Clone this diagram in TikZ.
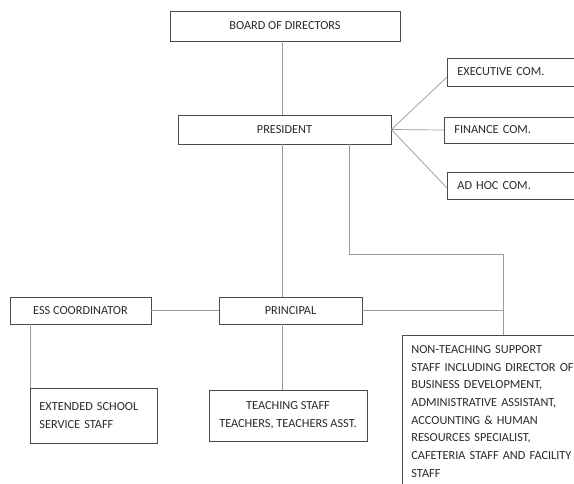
\documentclass[tikz,border=0pt]{standalone}
\usepackage{fontspec}
\setmainfont{Carlito}
\definecolor{boxline}{HTML}{4A4A4A}
\definecolor{linkline}{HTML}{9A9A9A}
\definecolor{txt}{HTML}{2A2A2A}

\begin{document}
\begin{tikzpicture}[x=1pt,y=-1pt,
  box/.style={draw=boxline, line width=0.8pt, text=txt, inner sep=0pt},
  lbox/.style={box, align=left, inner xsep=10pt},
  link/.style={draw=linkline, line width=0.7pt}]

\useasboundingbox (0,0) rectangle (574,484);
\clip (0,0) rectangle (574,484);
\fill[white] (0,0) rectangle (574,484);

\fontsize{12.3}{17.7}\selectfont

\node[box, minimum width=230, minimum height=30] (board) at (285,26) {BOARD OF DIRECTORS};
\node[box, minimum width=213, minimum height=29] (pres) at (284.5,129.5) {PRESIDENT};

\node[lbox, anchor=west, text width=130, minimum height=28] (exec) at (447,72) {EXECUTIVE COM.};
\node[lbox, anchor=west, text width=130, minimum height=26] (fin) at (444,130) {FINANCE COM.};
\node[lbox, anchor=west, text width=130, minimum height=27] (adhoc) at (447,185.5) {AD HOC COM.};

\node[box, minimum width=141, minimum height=27] (ess) at (80.5,310.5) {ESS COORDINATOR};
\node[box, minimum width=143, minimum height=27] (prin) at (290.5,310.5) {PRINCIPAL};

\node[lbox, anchor=north west, text width=109, minimum height=55, inner xsep=9pt] (ext) at (30,388)
  {EXTENDED SCHOOL\\SERVICE STAFF};
\node[box, align=center, minimum width=158, minimum height=51] (teach) at (288,415.5)
  {TEACHING STAFF\\TEACHERS, TEACHERS ASST.};
\node[lbox, anchor=north west, text width=200, inner xsep=9pt, inner ysep=10pt] (nonteach) at (402,335)
  {NON-TEACHING SUPPORT\\STAFF INCLUDING DIRECTOR OF\\BUSINESS DEVELOPMENT,\\ADMINISTRATIVE ASSISTANT,\\ACCOUNTING \& HUMAN\\RESOURCES SPECIALIST,\\CAFETERIA STAFF AND FACILITY\\STAFF};

\coordinate (spine) at (282,0);
\coordinate (drop) at (349,0);
\coordinate (bus) at (503,254);

\draw[link] (board.south -| spine) -- (pres.north -| spine);
\draw[link] (pres.east) -- ([yshift=-5pt]exec.west);
\draw[link] (pres.east) -- (fin.west);
\draw[link] (pres.east) -- ([yshift=-2.5pt]adhoc.west);

\draw[link] (pres.south -| spine) -- (prin.north -| spine);
\draw[link] (prin.south -| spine) -- (teach.north -| spine);
\draw[link] (pres.south -| drop) |- (bus) -- (bus |- nonteach.north);

\draw[link] (ess.east) -- (prin.west);
\draw[link] (prin.east) -- (prin.east -| bus);
\draw[link] (ess.south -| ext.west) -- (ext.north west);

\end{tikzpicture}
\end{document}
